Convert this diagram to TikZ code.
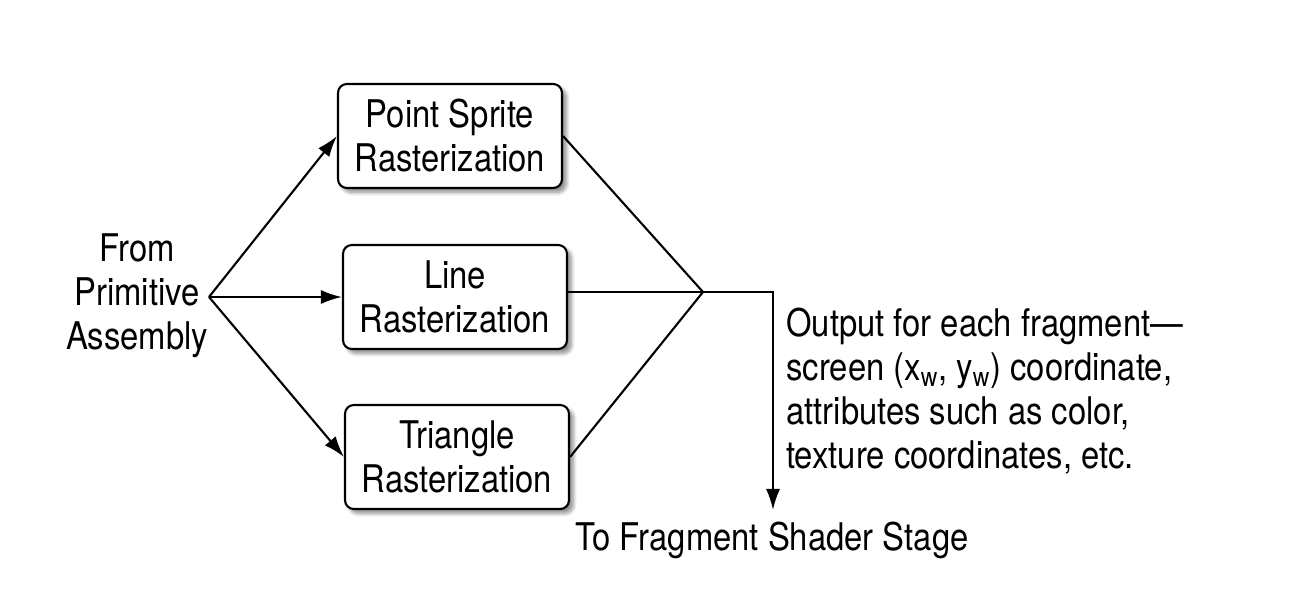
\documentclass[tikz,border=0pt]{standalone}
\usepackage{fontspec}
\setmainfont{TeX Gyre Heros}[FakeStretch=0.86]
\usetikzlibrary{arrows.meta,shadows.blur}

\tikzset{
  rasterbox/.style={draw, line width=1.2pt, rounded corners=5pt, fill=white,
    minimum width=4.48cm, minimum height=2.08cm, align=center, inner sep=2pt,
    blur shadow={shadow xshift=2.5pt, shadow yshift=-2.5pt, shadow blur steps=8, shadow opacity=45}},
  flow/.style={line width=1.2pt, -{Latex[length=12pt,width=8pt]}},
  joint/.style={line width=1.2pt}
}

\begin{document}
\begin{tikzpicture}[x=0.02cm, y=-0.02cm,
    every node/.style={font=\fontsize{21.7pt}{25pt}\selectfont}]
    \useasboundingbox (0,0) rectangle (1304,588);

    % Sorgente e biforcazione
    \node[align=center, inner sep=0pt](nSource) at (137,296) {From\\Primitive\\Assembly};
    \coordinate (nFork) at (209,297);

    % Blocchi di rasterizzazione disposti verticalmente
    \node[rasterbox](nPoint) at (450,136) {Point Sprite\\Rasterization};
    \node[rasterbox](nLine) at (455,297) {Line\\Rasterization};
    \node[rasterbox](nTriangle) at (457,457) {Triangle\\Rasterization};

    % Collegamenti in ingresso
    \draw[flow] (nFork)--(nPoint.west);
    \draw[flow] (nFork)--(nLine.west);
    \draw[flow] (nFork)--(nTriangle.west);

    % Collegamenti in uscita
    \coordinate (nJoin) at (703,292);
    \coordinate (nCorner) at (773,292);
    \coordinate (nOut) at (773,510);
    \draw[joint] (nPoint.east)--(nJoin);
    \draw[joint] (nLine.east |- nJoin)--(nJoin);
    \draw[joint] (nTriangle.east)--(nJoin);
    \draw[flow] (nJoin)--(nCorner)--(nOut);

    % Testi di uscita
    \node[anchor=north, inner sep=0pt](nStage) at (772,522) {To Fragment Shader Stage};
    \node[anchor=north west, align=left, inner sep=0pt](nNote) at (786,308)
      {Output for each fragment—\\screen (x\textsubscript{w}, y\textsubscript{w}) coordinate,\\attributes such as color,\\texture coordinates, etc.};
\end{tikzpicture}
\end{document}
